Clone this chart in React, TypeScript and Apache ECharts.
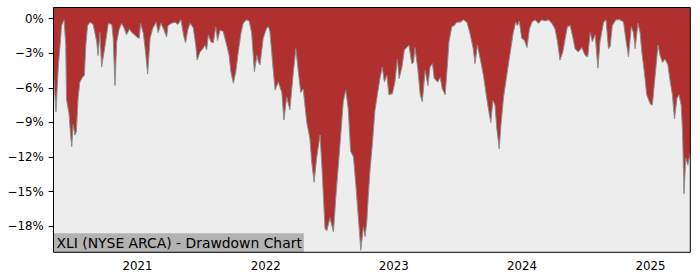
import React, { useEffect, useRef } from "react";
import * as echarts from "echarts";

// Drawdown readings (%), grouped by year
const dates2020 = ["2020-05-07","2020-05-14","2020-05-21","2020-05-25","2020-05-30","2020-06-06","2020-06-11","2020-06-13","2020-06-20","2020-06-25","2020-06-28","2020-07-02","2020-07-07","2020-07-11","2020-07-16","2020-07-21","2020-07-28","2020-08-03","2020-08-07","2020-08-12","2020-08-19","2020-08-28","2020-09-07","2020-09-11","2020-09-16","2020-09-21","2020-10-01","2020-10-10","2020-10-20","2020-10-24","2020-10-29","2020-11-03","2020-11-10","2020-11-17","2020-11-24","2020-12-01","2020-12-09","2020-12-16","2020-12-24","2020-12-30"];
const dd2020 = [-4.6,-8.1,-4.0,-2.6,-0.6,-0.1,-2.3,-7.0,-8.2,-10.2,-11.1,-9.2,-10.1,-9.8,-6.9,-5.5,-5.1,-4.9,-2.3,-0.6,-0.3,-0.5,-2.0,-3.2,-1.2,-4.2,-2.3,-0.4,-0.5,-1.7,-5.8,-2.0,-0.9,-0.4,-0.8,-1.4,-0.9,-1.2,-1.4,-1.6];

const dates2021 = ["2021-01-06","2021-01-10","2021-01-18","2021-01-25","2021-01-30","2021-02-06","2021-02-13","2021-02-23","2021-03-01","2021-03-09","2021-03-18","2021-03-25","2021-03-29","2021-04-08","2021-04-18","2021-04-26","2021-05-05","2021-05-12","2021-05-18","2021-05-24","2021-05-31","2021-06-09","2021-06-16","2021-06-20","2021-06-28","2021-07-06","2021-07-12","2021-07-17","2021-07-22","2021-07-29","2021-08-05","2021-08-12","2021-08-17","2021-08-24","2021-09-02","2021-09-12","2021-09-19","2021-09-24","2021-10-01","2021-10-08","2021-10-15","2021-10-23","2021-10-29","2021-11-08","2021-11-15","2021-11-22","2021-11-30","2021-12-07","2021-12-12","2021-12-16","2021-12-25"];
const dd2021 = [-1.7,-0.4,-1.3,-3.2,-4.8,-1.7,-0.9,-0.3,-1.2,-0.4,-1.0,-1.6,-0.6,-0.4,-0.3,-0.5,-0.1,-1.4,-2.1,-1.0,-0.4,-0.8,-2.3,-3.6,-2.9,-2.6,-2.3,-2.7,-1.4,-2.0,-2.1,-0.7,-1.9,-1.0,-1.1,-2.3,-3.2,-4.6,-5.6,-4.6,-2.9,-1.2,-0.4,-0.1,-0.2,-1.2,-4.6,-3.2,-3.8,-4.0,-1.7];

const dates2022 = ["2022-01-04","2022-01-09","2022-01-13","2022-01-23","2022-01-28","2022-02-06","2022-02-16","2022-02-22","2022-03-02","2022-03-11","2022-03-21","2022-03-28","2022-04-04","2022-04-11","2022-04-18","2022-04-28","2022-05-07","2022-05-12","2022-05-19","2022-05-26","2022-06-05","2022-06-11","2022-06-19","2022-06-24","2022-07-03","2022-07-13","2022-07-20","2022-08-01","2022-08-10","2022-08-17","2022-08-24","2022-08-31","2022-09-08","2022-09-15","2022-09-22","2022-09-29","2022-10-06","2022-10-11","2022-10-16","2022-10-20","2022-10-25","2022-11-01","2022-11-08","2022-11-16","2022-11-23","2022-11-29","2022-12-05","2022-12-12","2022-12-18","2022-12-28"];
const dd2022 = [-0.8,-0.7,-1.1,-4.6,-6.2,-5.5,-6.4,-8.8,-6.8,-7.9,-4.6,-2.6,-4.6,-6.4,-6.1,-9.0,-10.4,-12.4,-14.2,-12.1,-10.1,-13.3,-18.2,-18.4,-17.3,-18.5,-15.4,-10.8,-7.2,-6.2,-7.8,-11.5,-12.0,-14.5,-17.3,-20.1,-18.1,-18.9,-17.6,-15.5,-13.2,-10.8,-8.0,-6.4,-5.1,-4.2,-5.5,-4.9,-6.6,-6.5];

const dates2023 = ["2023-01-04","2023-01-11","2023-01-16","2023-01-24","2023-01-31","2023-02-07","2023-02-13","2023-02-21","2023-02-26","2023-03-02","2023-03-10","2023-03-17","2023-03-23","2023-03-31","2023-04-08","2023-04-14","2023-04-21","2023-04-26","2023-05-06","2023-05-13","2023-05-19","2023-05-27","2023-06-01","2023-06-07","2023-06-15","2023-06-22","2023-06-29","2023-07-09","2023-07-18","2023-07-28","2023-08-06","2023-08-15","2023-08-20","2023-08-27","2023-09-04","2023-09-13","2023-09-21","2023-09-27","2023-10-04","2023-10-10","2023-10-16","2023-10-21","2023-10-28","2023-11-02","2023-11-09","2023-11-17","2023-11-23","2023-11-30","2023-12-07","2023-12-14","2023-12-19","2023-12-24","2023-12-31"];
const dd2023 = [-5.5,-3.5,-5.2,-4.2,-2.7,-2.5,-2.3,-3.9,-3.8,-2.5,-4.3,-6.6,-7.2,-4.5,-5.8,-4.2,-3.9,-5.2,-5.5,-5.1,-6.1,-6.6,-4.6,-2.0,-0.7,-0.6,-0.3,-0.3,-0.1,-0.3,-1.3,-2.6,-3.9,-2.3,-3.5,-4.9,-6.6,-7.8,-9.0,-7.1,-7.5,-9.5,-11.3,-9.2,-6.9,-5.2,-4.0,-2.6,-1.2,-0.3,-0.6,-0.2,-1.7];

const dates2024 = ["2024-01-08","2024-01-15","2024-01-22","2024-01-29","2024-02-07","2024-02-17","2024-02-26","2024-03-07","2024-03-16","2024-03-26","2024-04-04","2024-04-11","2024-04-18","2024-04-26","2024-05-03","2024-05-09","2024-05-17","2024-05-25","2024-05-31","2024-06-09","2024-06-19","2024-06-29","2024-07-06","2024-07-13","2024-07-19","2024-07-27","2024-08-04","2024-08-10","2024-08-20","2024-08-27","2024-09-03","2024-09-08","2024-09-14","2024-09-24","2024-10-06","2024-10-16","2024-10-22","2024-10-30","2024-11-07","2024-11-13","2024-11-18","2024-11-26","2024-12-02","2024-12-07","2024-12-14","2024-12-21","2024-12-31"];
const dd2024 = [-1.9,-2.5,-0.9,-0.3,-0.1,-0.4,-0.1,-0.2,-0.1,-0.4,-0.9,-2.0,-3.6,-2.9,-1.7,-0.7,-0.6,-1.7,-2.6,-2.9,-2.5,-3.2,-3.3,-1.2,-2.0,-1.4,-4.3,-2.0,-0.3,-0.1,-2.6,-2.4,-0.6,-0.1,-0.1,-0.3,-1.7,-3.3,-0.7,-1.2,-2.6,-0.4,-1.2,-2.9,-4.6,-6.6,-7.4];

const dates2025 = ["2025-01-06","2025-01-14","2025-01-22","2025-01-28","2025-02-04","2025-02-11","2025-02-19","2025-02-26","2025-03-04","2025-03-10","2025-03-17","2025-03-23","2025-03-29","2025-04-02","2025-04-06","2025-04-11","2025-04-17","2025-04-24"];
const dd2025 = [-7.5,-4.9,-2.3,-3.2,-3.8,-3.5,-4.0,-5.5,-6.6,-8.7,-6.9,-6.6,-7.5,-9.8,-15.2,-12.1,-12.7,-11.6];

const yTicks = [0, -3, -6, -9, -12, -15, -18];
const xTickDates = ["2021-01-01", "2022-01-01", "2023-01-01", "2024-01-01", "2025-01-01"];
const xStart = "2020-05-07";
const xEnd = "2025-04-24";
const yMin = -20.27;
const yMax = 0.97;
const chartTitle = "XLI (NYSE ARCA) - Drawdown Chart";

export default function App() {
  const ref = useRef<HTMLDivElement>(null);

  useEffect(() => {
    document.body.style.margin = "0";
    const chart = echarts.init(ref.current as HTMLDivElement, null, { renderer: "svg" });

    const dates = [...dates2020, ...dates2021, ...dates2022, ...dates2023, ...dates2024, ...dates2025];
    const values = [...dd2020, ...dd2021, ...dd2022, ...dd2023, ...dd2024, ...dd2025];
    const ts = (d: string) => Date.parse(d + "T00:00:00Z");
    const data = dates.map((d, i) => [ts(d), values[i]]);
    const xTicks = xTickDates.map(ts);

    const font = "DejaVu Sans";
    const gl = 53.5, gt = 7.5, gr = 9.7, gb = 27.7;
    const gw = 700 - gl - gr, gh = 280 - gt - gb;

    chart.setOption({
      animation: false,
      backgroundColor: "#ffffff",
      grid: {
        left: gl, right: gr, top: gt, bottom: gb,
        show: true, backgroundColor: "#ededed", borderWidth: 0,
      },
      xAxis: {
        type: "value",
        min: ts(xStart),
        max: ts(xEnd),
        axisLine: { show: false },
        axisTick: { show: true, length: 4.9, lineStyle: { color: "#000", width: 1 }, customValues: xTicks },
        axisLabel: {
          customValues: xTicks,
          margin: 8,
          color: "#000",
          fontFamily: font,
          fontSize: 11.8,
          formatter: (v: number) => String(new Date(v).getUTCFullYear()),
        },
        splitLine: { show: false },
      },
      yAxis: {
        type: "value",
        min: yMin,
        max: yMax,
        axisLine: { show: false },
        axisTick: { show: true, length: 4.9, lineStyle: { color: "#000", width: 1 }, customValues: yTicks },
        axisLabel: {
          customValues: yTicks,
          margin: 9.7,
          color: "#000",
          fontFamily: font,
          fontSize: 11.8,
          formatter: (v: number) => (v < 0 ? "\u2212" : "") + Math.abs(Math.round(v)) + "%",
        },
        splitLine: { show: false },
      },
      series: [
        {
          type: "line",
          data,
          showSymbol: false,
          symbol: "none",
          lineStyle: { color: "#8c8c8c", width: 1 },
          areaStyle: { color: "#b03030", opacity: 1, origin: "end" },
          z: 2,
        },
      ],
      graphic: [
        {
          type: "rect",
          z: 100,
          shape: { x: gl, y: gt, width: gw, height: gh },
          style: { fill: null, stroke: "#000", lineWidth: 1 },
        },
        {
          type: "rect",
          z: 99,
          shape: { x: gl + 0.5, y: 233.3, width: 249.8, height: 18.7 },
          style: { fill: "#b3b3b3", stroke: null },
        },
        {
          type: "text",
          z: 101,
          x: 56.5,
          y: 243,
          style: {
            text: chartTitle,
            fill: "#000",
            font: `13.9px "${font}"`,
            verticalAlign: "middle",
            align: "left",
          },
        },
      ],
    });

    return () => chart.dispose();
  }, []);

  return <div ref={ref} style={{ width: 700, height: 280 }} />;
}
